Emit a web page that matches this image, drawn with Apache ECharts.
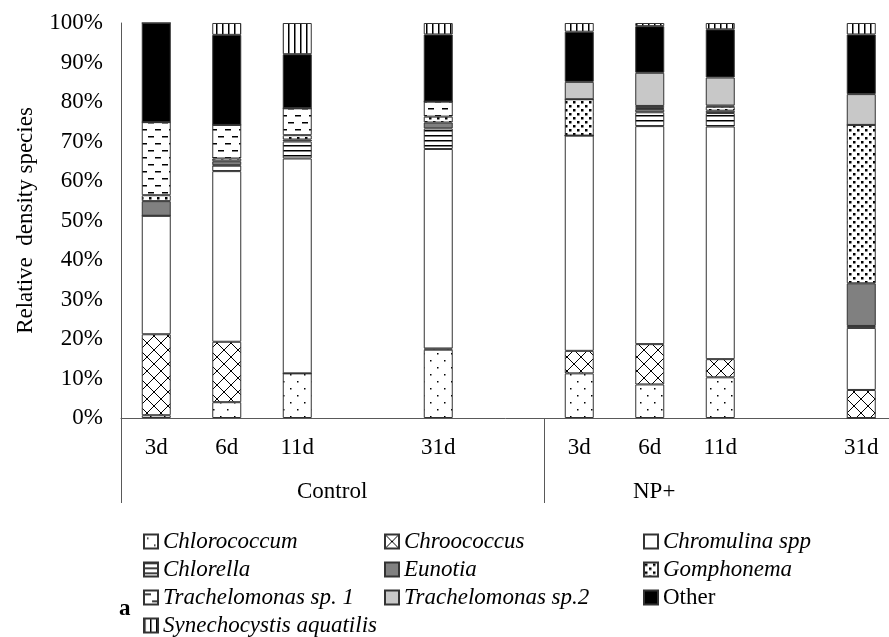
<!DOCTYPE html>
<html lang="en">
<head>
    <meta charset="UTF-8">
    <title>Relative density species</title>
    <script src="https://cdn.jsdelivr.net/npm/echarts@6.0.0/dist/echarts.min.js"></script>
    <style>
        body { margin: 0; background: #fff; }
    </style>
</head>
<body>
<div id="myChart" style="width: 889px;height: 637px;"></div>

<script>
    // categories (empty slots are the gaps between days)
    var days = ['3d', '6d', '11d', '', '31d', '', '3d', '6d', '11d', '', '31d', ''];
    var yTicks = [0, 10, 20, 30, 40, 50, 60, 70, 80, 90, 100];

    // relative density (%) per species
    var chlorococcum = [0.7, 4.0, 11.3, null, 17.3, null, 11.3, 8.5, 10.3, null, 0, null];
    var chroococcus  = [20.5, 15.3, 0, null, 0.3, null, 5.7, 10.2, 4.6, null, 7.1, null];
    var chromulina   = [30.0, 43.2, 54.4, null, 50.5, null, 54.5, 55.2, 58.9, null, 15.7, null];
    var chlorella    = [0, 1.5, 4.3, null, 5.2, null, 0, 3.5, 3.4, null, 0.5, null];
    var eunotia      = [3.7, 1.0, 0.5, null, 1.5, null, 0, 0.8, 0.6, null, 10.8, null];
    var gomphonema   = [1.5, 0.7, 1.1, null, 1.5, null, 9.2, 0.3, 1.0, null, 40.1, null];
    var trach1       = [18.5, 8.5, 6.8, null, 3.8, null, 0, 0.5, 0.3, null, 0, null];
    var trach2       = [0, 0, 0, null, 0, null, 4.4, 8.4, 7.1, null, 7.8, null];
    var other        = [25.1, 22.8, 13.7, null, 17.0, null, 12.7, 11.8, 12.2, null, 15.1, null];
    var synechocystis = [0, 3.0, 7.9, null, 2.9, null, 2.2, 0.8, 1.6, null, 2.9, null];

    var FONT = 'Liberation Serif';
    var INK = '#333';

    // small canvas tiles used as fill patterns
    function tile(w, h, draw) {
        var c = document.createElement('canvas');
        c.width = w; c.height = h;
        var ctx = c.getContext('2d');
        ctx.fillStyle = '#fff';
        ctx.fillRect(0, 0, w, h);
        ctx.fillStyle = '#000';
        ctx.strokeStyle = '#000';
        draw(ctx);
        return {image: c, repeat: 'repeat'};
    }

    var fills = {
        dots: tile(14, 14, function (ctx) {
            ctx.fillRect(3, 3, 1.5, 1.5);
            ctx.fillRect(10, 10, 1.5, 1.5);
        }),
        cross: tile(14, 14, function (ctx) {
            ctx.lineWidth = 1;
            ctx.beginPath();
            ctx.moveTo(0, 0); ctx.lineTo(14, 14);
            ctx.moveTo(14, 0); ctx.lineTo(0, 14);
            ctx.stroke();
        }),
        hlines: tile(6, 5, function (ctx) {
            ctx.fillRect(0, 0, 6, 1.5);
        }),
        confetti: tile(8, 8, function (ctx) {
            ctx.fillRect(1, 1, 2.5, 2.5);
            ctx.fillRect(5, 5, 2.5, 2.5);
        }),
        dashes: tile(14, 14, function (ctx) {
            ctx.fillRect(1, 3, 6, 1.5);
            ctx.fillRect(8, 10, 6, 1.5);
        }),
        vlines: tile(6, 6, function (ctx) {
            ctx.fillRect(0, 0, 1.5, 6);
        })
    };

    function bar(name, data, color) {
        return {
            name: name,
            type: 'bar',
            stack: 'total',
            barWidth: 29,
            data: data,
            itemStyle: {color: color, borderColor: INK, borderWidth: 1}
        };
    }

    var legendText = {
        fontFamily: FONT,
        fontSize: 23,
        color: '#000',
        rich: {
            i: {fontFamily: FONT, fontSize: 23, fontStyle: 'italic', color: '#000'},
            n: {fontFamily: FONT, fontSize: 23, color: '#000'}
        }
    };

    function legendCol(names, left) {
        return {
            data: names,
            orient: 'vertical',
            left: left,
            top: 530,
            height: 200,
            padding: 0,
            itemWidth: 14,
            itemHeight: 14,
            itemGap: 5,
            selectedMode: false,
            icon: 'rect',
            textStyle: legendText,
            formatter: function (name) {
                return name === 'Other' ? '{n|Other}' : '{i|' + name + '}';
            }
        };
    }

    var myChart = echarts.init(document.getElementById('myChart'));

    var option = {
        animation: false,
        backgroundColor: '#fff',
        grid: {left: 121, top: 23, bottom: 219, width: 846, outerBoundsMode: 'none', containLabel: false},
        legend: [
            legendCol(['Chlorococcum', 'Chlorella', 'Trachelomonas sp. 1', 'Synechocystis aquatilis'], 143),
            legendCol(['Chroococcus', 'Eunotia', 'Trachelomonas sp.2'], 384),
            legendCol(['Chromulina spp', 'Gomphonema', 'Other'], 643)
        ],
        xAxis: {
            type: 'category',
            data: days,
            axisLine: {lineStyle: {color: '#595959', width: 1}},
            axisTick: {
                show: true,
                length: 85,
                interval: function (i) { return i === 0 || i === 6; },
                lineStyle: {color: '#595959', width: 1}
            },
            axisLabel: {
                interval: 0,
                margin: 18,
                fontFamily: FONT,
                fontSize: 23,
                color: '#000'
            }
        },
        yAxis: {
            type: 'value',
            min: yTicks[0],
            max: yTicks[yTicks.length - 1],
            interval: 10,
            name: 'Relative  density species',
            nameLocation: 'middle',
            nameGap: 84,
            nameTextStyle: {fontFamily: FONT, fontSize: 23, color: '#000'},
            axisLine: {show: true, lineStyle: {color: '#595959', width: 1}},
            axisTick: {show: false},
            splitLine: {show: false},
            axisLabel: {
                margin: 18,
                fontFamily: FONT,
                fontSize: 23,
                color: '#000',
                formatter: '{value}%'
            }
        },
        graphic: [
            {type: 'text', left: 297, top: 480, style: {text: 'Control', font: '23px "Liberation Serif"', fill: '#000'}},
            {type: 'text', left: 633, top: 480, style: {text: 'NP+', font: '23px "Liberation Serif"', fill: '#000'}},
            {type: 'text', left: 119, top: 598, style: {text: 'a', font: 'bold 23px "Liberation Serif"', fill: '#000'}}
        ],
        series: [
            bar('Chlorococcum', chlorococcum, fills.dots),
            bar('Chroococcus', chroococcus, fills.cross),
            bar('Chromulina spp', chromulina, '#fff'),
            bar('Chlorella', chlorella, fills.hlines),
            bar('Eunotia', eunotia, '#808080'),
            bar('Gomphonema', gomphonema, fills.confetti),
            bar('Trachelomonas sp. 1', trach1, fills.dashes),
            bar('Trachelomonas sp.2', trach2, '#c8c8c8'),
            bar('Other', other, '#000'),
            bar('Synechocystis aquatilis', synechocystis, fills.vlines)
        ]
    };

    myChart.setOption(option);
</script>
</body>
</html>
